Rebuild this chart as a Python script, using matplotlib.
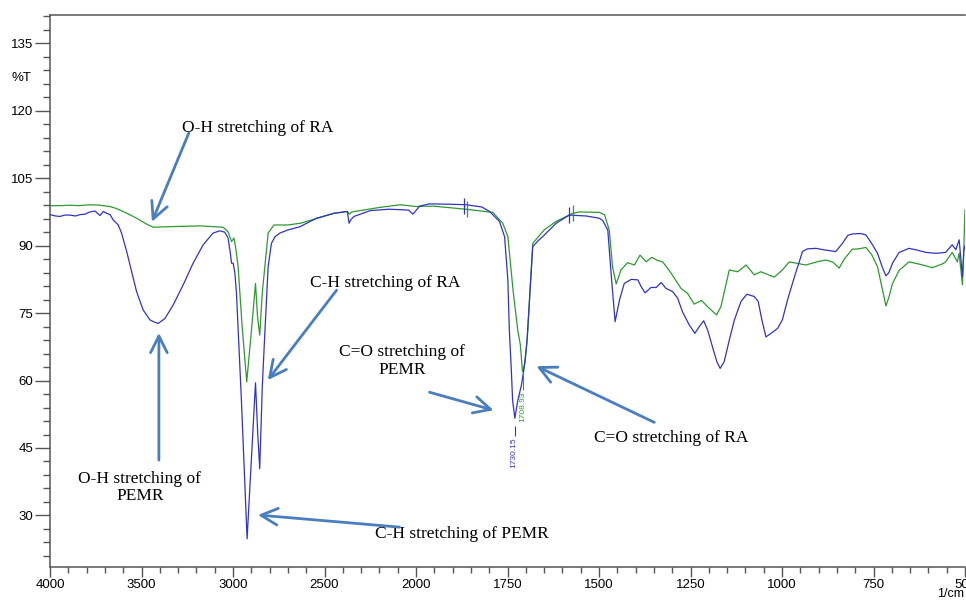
import numpy as np
import matplotlib
matplotlib.use("Agg")
import matplotlib.pyplot as plt

# PEMR spectrum (blue)
pemr_wn = [4000, 3970, 3945, 3920, 3891, 3860, 3836, 3810, 3782, 3754, 3727, 3709, 3690, 3672,
           3654, 3627, 3609, 3581, 3554, 3527, 3491, 3454, 3430, 3409, 3372, 3327, 3272, 3218,
           3163, 3109, 3072, 3045, 3027, 3015, 3008, 2999, 2990, 2981, 2954, 2923, 2900, 2877,
           2865, 2854, 2840, 2826, 2808, 2790, 2770, 2744, 2700, 2635, 2544, 2448, 2375, 2366,
           2355, 2339, 2250, 2150, 2084, 2040, 2017, 1990, 1963, 1900, 1863, 1820, 1799, 1772,
           1758, 1749, 1745, 1740, 1736, 1730, 1722, 1712, 1705, 1697, 1690, 1681, 1665, 1654,
           1617, 1581, 1535, 1499, 1490, 1476, 1467, 1456, 1444, 1431, 1412, 1394, 1385, 1374,
           1358, 1344, 1330, 1317, 1299, 1285, 1272, 1253, 1238, 1226, 1214, 1203, 1190, 1178,
           1169, 1158, 1144, 1130, 1112, 1096, 1076, 1065, 1055, 1044, 1030, 1012, 999, 985,
           967, 944, 930, 907, 880, 853, 835, 820, 808, 785, 771, 755, 739, 725, 716, 708, 698,
           680, 653, 630, 607, 580, 553, 535, 525, 516, 510, 507, 503, 500]
pemr_t = [96.9, 96.6, 96.5, 96.8, 96.8, 96.6, 96.9, 97.0, 97.5, 97.7, 96.7, 97.6, 97.2, 96.9,
          95.7, 94.6, 92.8, 88.7, 84.2, 79.8, 75.7, 73.5, 73.0, 72.7, 73.8, 76.8, 81.3, 86.1,
          90.2, 92.8, 93.3, 93.0, 91.7, 88.5, 86.1, 86.1, 84.0, 79.4, 55.6, 24.8, 42.3, 59.5,
          48.3, 40.4, 58.6, 70.6, 85.3, 90.5, 92.0, 92.8, 93.5, 94.2, 96.1, 97.2, 97.6, 95.0,
          95.8, 96.5, 97.8, 98.1, 98.0, 97.9, 97.0, 98.8, 99.3, 99.2, 99.1, 98.6, 97.6, 95.4,
          92.0, 82.4, 71.2, 63.1, 55.6, 51.6, 55.5, 59.0, 62.5, 68.5, 77.9, 89.8, 91.2, 92.0,
          95.0, 96.8, 96.6, 96.1, 95.6, 93.5, 83.9, 73.1, 77.9, 81.6, 82.5, 82.4, 80.9, 79.5,
          80.7, 80.7, 81.8, 80.5, 79.8, 78.3, 75.3, 72.3, 70.5, 72.0, 73.3, 71.2, 67.5, 64.2,
          62.7, 64.2, 69.0, 73.5, 77.6, 79.2, 78.7, 77.6, 73.5, 69.7, 70.5, 71.6, 73.5, 77.9,
          82.8, 88.7, 89.3, 89.4, 89.0, 88.7, 90.5, 92.3, 92.6, 92.7, 92.4, 90.5, 88.3, 85.0, 83.3, 84.0, 86.1,
          88.5, 89.4, 89.0, 88.5, 88.3, 88.5, 90.2, 89.1, 91.3, 86.0, 83.1, 89.0, 90.0]

# RA spectrum (green)
ra_wn = [4000, 3940, 3891, 3840, 3782, 3730, 3672, 3640, 3600, 3560, 3527, 3472, 3436, 3363,
         3181, 3054, 3027, 3008, 2995, 2985, 2972, 2950, 2925, 2900, 2877, 2866, 2854, 2840,
         2826, 2808, 2776, 2700, 2630, 2448, 2375, 2365, 2350, 2200, 2084, 2000, 1954, 1863,
         1790, 1763, 1749, 1735, 1722, 1715, 1709, 1702, 1695, 1690, 1681, 1650, 1617, 1572,
         1553, 1499, 1485, 1472, 1463, 1453, 1440, 1422, 1403, 1388, 1371, 1356, 1340, 1326,
         1303, 1276, 1258, 1240, 1220, 1199, 1179, 1167, 1144, 1121, 1098, 1076, 1058, 1021,
         999, 980, 967, 935, 900, 880, 860, 844, 830, 808, 790, 771, 755, 739, 725, 716, 708,
         698, 680, 653, 620, 589, 560, 553, 535, 521, 516, 507, 503, 500]
ra_t = [98.9, 98.9, 99.0, 98.9, 99.1, 99.0, 98.7, 98.3, 97.6, 96.8, 96.1, 94.8, 94.1, 94.2,
        94.4, 94.1, 93.1, 90.9, 91.7, 89.5, 85.3, 72.0, 59.7, 70.8, 81.6, 74.2, 70.1, 79.5,
        85.3, 92.8, 94.6, 94.6, 95.0, 97.2, 97.6, 97.0, 97.5, 98.5, 99.1, 98.7, 98.8, 98.1,
        97.4, 95.0, 92.0, 80.2, 71.2, 68.0, 62.0, 64.0, 70.5, 77.9, 90.5, 93.5, 95.4, 97.2,
        97.5, 97.4, 96.9, 93.5, 85.3, 81.5, 84.6, 86.2, 85.7, 87.9, 86.4, 87.4, 86.7, 86.4,
        83.9, 80.5, 79.4, 77.0, 77.8, 76.1, 74.6, 76.4, 84.6, 84.2, 85.7, 83.5, 84.2, 83.0,
        84.6, 86.4, 86.2, 85.7, 86.5, 86.8, 86.3, 85.0, 87.0, 89.2, 89.3, 89.6, 88.0, 85.3, 80.0, 76.6, 78.5,
        81.6, 84.5, 86.4, 85.8, 85.1, 86.0, 86.4, 88.5, 86.4, 88.3, 81.3, 90.0, 98.0]

# peak labels and region marks
peak_labels = ["1730.15", "1708.93"]
peak_pos = [1730.15, 1708.93]
mark_pemr_wn = [1868, 1582]
mark_pemr_t = [98.9, 96.8]
mark_ra_wn = [1862, 1572]
mark_ra_t = [98.2, 97.2]

# annotations: text, text position, arrow tail, arrow head
notes = [
    ("O-H stretching of RA", (2864, 116.2), (3241, 115.1), (3443, 95.3)),
    ("O-H stretching of\nPEMR", (3509, 36.2), (3405, 42.3), (3405, 70.6)),
    ("C-H stretching of RA", (2171, 81.7), (2434, 80.1), (2810, 60.1)),
    ("C=O stretching of\nPEMR", (2078, 64.3), (1963, 57.4), (1788, 53.4)),
    ("C=O stretching of RA", (1302, 47.2), (1349, 50.7), (1671, 63.2)),
    ("C-H stretching of PEMR", (1876, 25.8), (2090, 27.4), (2864, 30.1)),
]

blue = "#3232c8"
green = "#2e9a2e"
arrow_c = "#4a7ebf"
axc = "#555555"


def fwd(x):
    x = np.asarray(x, dtype=float)
    return np.where(x > 2000, 2000 + (x - 2000) / 2, x)


def inv(t):
    t = np.asarray(t, dtype=float)
    return np.where(t > 2000, 2000 + (t - 2000) * 2, t)


fig = plt.figure(figsize=(9.66, 6.01), dpi=100)
ax = fig.add_axes([50 / 966, 1 - 566.7 / 601, 915 / 966, (566.7 - 15) / 601])
ax.set_xscale("function", functions=(fwd, inv))

ax.plot(ra_wn, ra_t, color=green, lw=0.9)
ax.plot(pemr_wn, pemr_t, color=blue, lw=0.9)
ax.plot(mark_pemr_wn, mark_pemr_t, ls="none", marker="|", ms=11, mew=0.9, color=blue)
ax.plot(mark_ra_wn, mark_ra_t, ls="none", marker="|", ms=11, mew=0.9, color=green)

# peak pick labels
ax.vlines(peak_pos[0], 47.6, 50.0, color=blue, lw=0.8)
ax.text(peak_pos[0] + 3, 47.3, peak_labels[0], rotation=90, ha="center", va="top",
        fontsize=6, color=blue, family="Liberation Sans")
ax.vlines(peak_pos[1], 57.8, 62.0, color=green, lw=0.8)
ax.text(peak_pos[1], 57.6, peak_labels[1], rotation=90, ha="center", va="top",
        fontsize=6, color=green, family="Liberation Sans")

for txt, tpos, tail, head in notes:
    ax.text(tpos[0], tpos[1], txt, ha="center", va="center", fontsize=12.5,
            family="Liberation Serif", linespacing=1.15)
    ax.annotate("", xy=head, xytext=tail,
                arrowprops=dict(arrowstyle="->,head_length=1.0,head_width=0.5",
                                mutation_scale=12, color=arrow_c, lw=2,
                                shrinkA=0, shrinkB=0))

ax.set_xlim(4000, 500)
ax.set_ylim(18.6, 141.3)

xmaj = [4000, 3500, 3000, 2500, 2000, 1750, 1500, 1250, 1000, 750, 500]
xmin = [v for v in range(3900, 2000, -100) if v % 500] + [v for v in range(1950, 500, -50) if v % 250]
ax.set_xticks(xmaj)
ax.set_xticklabels([str(v) for v in xmaj])
ax.set_xticks(xmin, minor=True)
ax.set_yticks(range(30, 136, 15))
ax.set_yticks([v for v in range(21, 142, 3) if v % 15], minor=True)

for s in ["top", "left", "bottom"]:
    ax.spines[s].set_color(axc)
    ax.spines[s].set_linewidth(1.1)
ax.spines["right"].set_visible(False)

ax.tick_params(axis="x", which="major", direction="out", length=7, width=1, color=axc,
               pad=1.5, labelsize=9.5)
ax.tick_params(axis="x", which="minor", direction="out", length=4.3, width=1, color=axc)
ax.tick_params(axis="y", which="major", direction="out", length=10.5, width=1, color=axc,
               pad=1.5, labelsize=9.5)
ax.tick_params(axis="y", which="minor", direction="out", length=5, width=1, color=axc)
for lab in ax.get_xticklabels() + ax.get_yticklabels():
    lab.set_family("Liberation Sans")

fig.text(21 / 966, 1 - 77.7 / 601, "%T", ha="center", va="center", fontsize=9.5,
         family="Liberation Sans")
fig.text(964 / 966, 1 / 601, "1/cm", ha="right", va="bottom", fontsize=9,
         family="Liberation Sans")

fig.savefig("out.png", dpi=100)
